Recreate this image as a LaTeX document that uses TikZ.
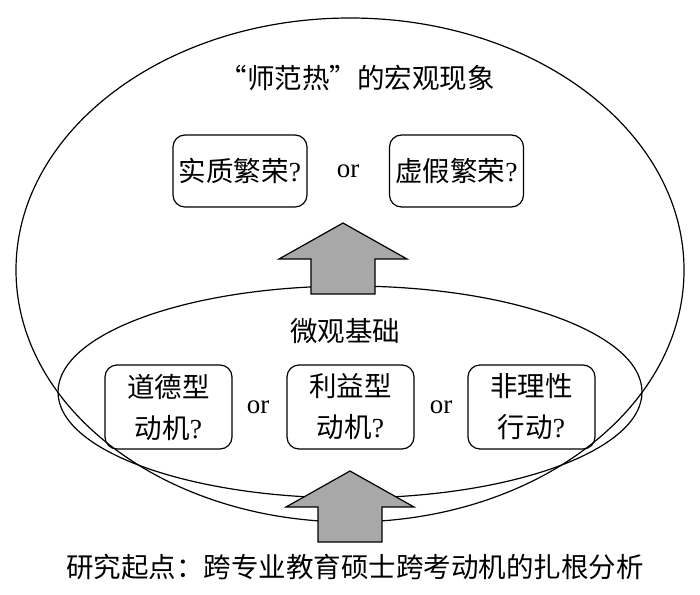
\documentclass[tikz,border=0pt]{standalone}
\usepackage{fontspec}
\setmainfont{Liberation Serif}
\newfontfamily\cjk{Noto Sans CJK SC}
\definecolor{arrowgray}{rgb}{0.66,0.66,0.66}
\newcommand{\blockarrow}[1]{%
  \filldraw[fill=arrowgray,line join=miter] (#1) +(-32,0) -- +(-32,-35) -- +(-64,-35)
    -- +(0,-71) -- +(64,-35) -- +(32,-35) -- +(32,0) -- cycle;}

\begin{document}
\begin{tikzpicture}[x=1pt,y=-1pt,line width=1.2pt,
  cjktext/.style={inner sep=0pt,align=center,font={\fontsize{27.5}{41}\selectfont\cjk}},
  topbox/.style={cjktext,draw,rounded corners=12pt,minimum width=134pt,minimum height=72pt},
  basebox/.style={cjktext,draw,rounded corners=12pt,minimum width=127pt,minimum height=84pt},
  ortext/.style={inner sep=0pt,font={\fontsize{27}{30}\selectfont}}]
\useasboundingbox (0,0) rectangle (700,594);
%\fill [white] (0,0) rectangle (700,594);
\draw (350,270) ellipse [x radius=334, y radius=252];
\draw (350,392) ellipse [x radius=292, y radius=106];

\node[cjktext] (macro) at (357,78) {“师范热”的宏观现象};
\node[topbox] (real) at (240,171) {实质繁荣\textrm{?}};
\node[ortext] (or1) at (348,171) {or};
\node[topbox] (fake) at (456.5,171) {虚假繁荣\textrm{?}};

\node[cjktext] (micro) at (345,331) {微观基础};
\node[basebox] (moral) at (168.5,407) {道德型\\动机\textrm{?}};
\node[ortext] (or2) at (258,407) {or};
\node[basebox] (gain) at (350.5,407) {利益型\\动机\textrm{?}};
\node[ortext] (or3) at (441,407) {or};
\node[basebox] (irr) at (531.5,407) {非理性\\行动\textrm{?}};

\coordinate (upfoot) at (343,294);
\coordinate (lowfoot) at (350,542);
\blockarrow{upfoot}
\blockarrow{lowfoot}

\node[cjktext] (start) at (355,567) {研究起点：跨专业教育硕士跨考动机的扎根分析};
\end{tikzpicture}
\end{document}
